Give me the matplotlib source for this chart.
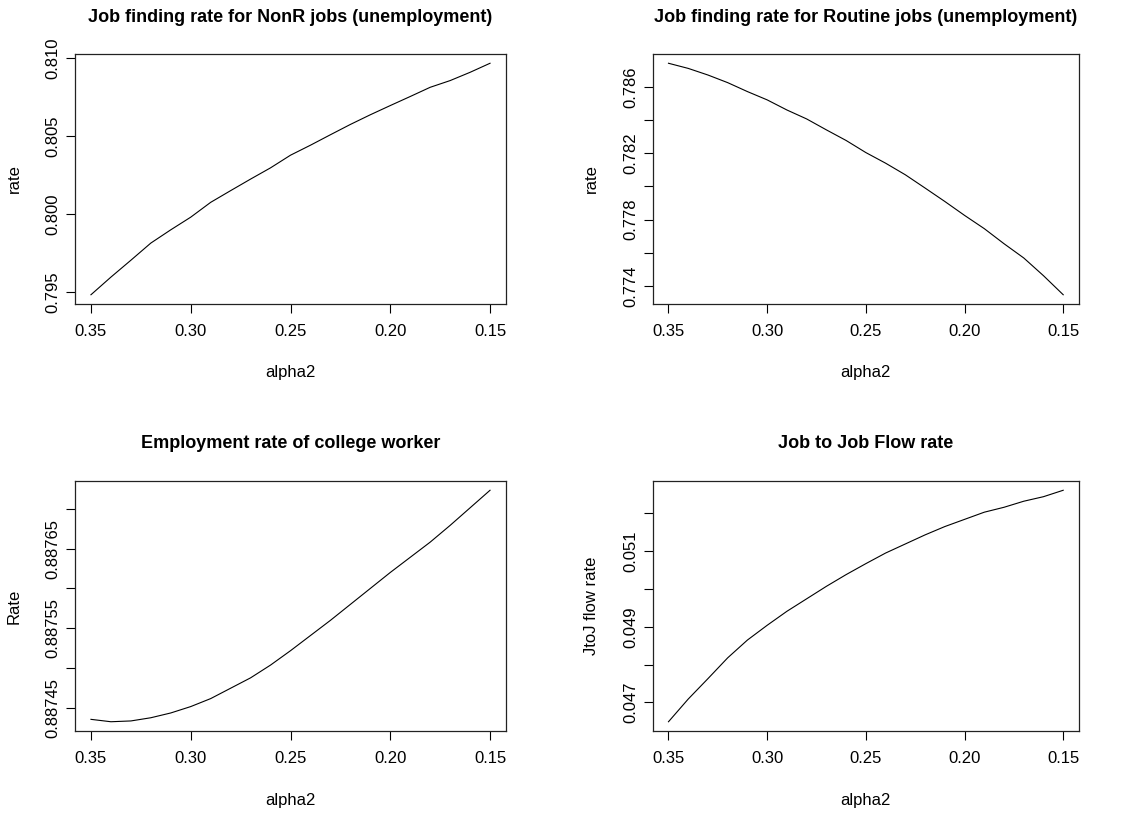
import matplotlib
matplotlib.use("Agg")
import matplotlib.pyplot as plt

plt.rcParams['font.family'] = ['Liberation Sans Narrow', 'Liberation Sans', 'DejaVu Sans']

# alpha2 grid (plotted from 0.35 down to 0.15)
alpha2 = [0.35, 0.34, 0.33, 0.32, 0.31, 0.30, 0.29, 0.28, 0.27, 0.26, 0.25,
          0.24, 0.23, 0.22, 0.21, 0.20, 0.19, 0.18, 0.17, 0.16, 0.15]

# job finding rate, non-routine jobs
nonr_rate = [0.79483, 0.79596, 0.79704, 0.79814, 0.79899, 0.79980, 0.80075,
             0.80150, 0.80224, 0.80296, 0.80377, 0.80441, 0.80508, 0.80574,
             0.80636, 0.80695, 0.80753, 0.80812, 0.80855, 0.80908, 0.80966]

# job finding rate, routine jobs
routine_rate = [0.78743, 0.78712, 0.78672, 0.78626, 0.78572, 0.78522, 0.78461,
                0.78407, 0.78341, 0.78277, 0.78204, 0.78140, 0.78070, 0.77990,
                0.77909, 0.77825, 0.77745, 0.77654, 0.77568, 0.77461, 0.77346]

# employment rate of college workers
college_emp = [0.887436, 0.887433, 0.887434, 0.887438, 0.887444, 0.887452,
               0.887462, 0.887475, 0.887488, 0.887504, 0.887522, 0.887541,
               0.887560, 0.887580, 0.887600, 0.887620, 0.887639, 0.887658,
               0.887679, 0.887701, 0.887723]

# job-to-job flow rate
jtoj_rate = [0.04649, 0.04709, 0.04763, 0.04818, 0.04865, 0.04904, 0.04941,
             0.04974, 0.05007, 0.05038, 0.05067, 0.05095, 0.05119, 0.05143,
             0.05165, 0.05184, 0.05203, 0.05216, 0.05232, 0.05244, 0.05261]

x_ticks = [0.35, 0.30, 0.25, 0.20, 0.15]

panels = [
    ("Job finding rate for NonR jobs (unemployment)", "rate", nonr_rate,
     [0.795, 0.800, 0.805, 0.810], ["0.795", "0.800", "0.805", "0.810"]),
    ("Job finding rate for Routine jobs (unemployment)", "rate", routine_rate,
     [0.774, 0.776, 0.778, 0.780, 0.782, 0.784, 0.786],
     ["0.774", "", "0.778", "", "0.782", "", "0.786"]),
    ("Employment rate of college worker", "Rate", college_emp,
     [0.88745, 0.88750, 0.88755, 0.88760, 0.88765, 0.88770],
     ["0.88745", "", "0.88755", "", "0.88765", ""]),
    ("Job to Job Flow rate", "JtoJ flow rate", jtoj_rate,
     [0.047, 0.048, 0.049, 0.050, 0.051, 0.052],
     ["0.047", "", "0.049", "", "0.051", ""]),
]

W, H = 1125, 814
# plot boxes in pixels: left, top, right, bottom
boxes = [(75, 54, 506, 304), (652.7, 54, 1079, 304),
         (75, 481, 506, 731), (652.7, 481, 1079, 731)]

fig = plt.figure(figsize=(W / 100, H / 100), dpi=100)

for (title, ylab, yvals, yt, ytl), (l, t, r, b) in zip(panels, boxes):
    ax = fig.add_axes([l / W, (H - b) / H, (r - l) / W, (b - t) / H])
    ax.plot(alpha2, yvals, color='black', lw=0.8)

    # R style 4% padding, reversed x axis
    xr = max(alpha2) - min(alpha2)
    ax.set_xlim(max(alpha2) + 0.04 * xr, min(alpha2) - 0.04 * xr)
    yr = max(yvals) - min(yvals)
    ax.set_ylim(min(yvals) - 0.04 * yr, max(yvals) + 0.04 * yr)

    ax.set_xticks(x_ticks)
    ax.set_xticklabels(["%.2f" % v for v in x_ticks])
    ax.set_yticks(yt)
    ax.set_yticklabels(ytl, rotation=90, va='center')
    ax.tick_params(direction='out', length=6.5, width=0.8, labelsize=12,
                   colors='black')
    ax.tick_params(axis='x', pad=8)
    ax.tick_params(axis='y', pad=4)
    for s in ax.spines.values():
        s.set_linewidth(0.9)
        s.set_color('#222222')

    hpx = b - t
    ax.set_xlabel("alpha2", fontsize=12, va='center')
    ax.xaxis.set_label_coords(0.5, -69 / hpx)
    ax.set_ylabel(ylab, fontsize=12, va='center')
    ax.yaxis.set_label_coords(-61 / (r - l), 0.5)
    ax.set_title(title, fontsize=13, fontweight='bold', y=1 + 37 / hpx,
                 va='center', pad=0)

fig.savefig("out.png", dpi=100, facecolor='white')
